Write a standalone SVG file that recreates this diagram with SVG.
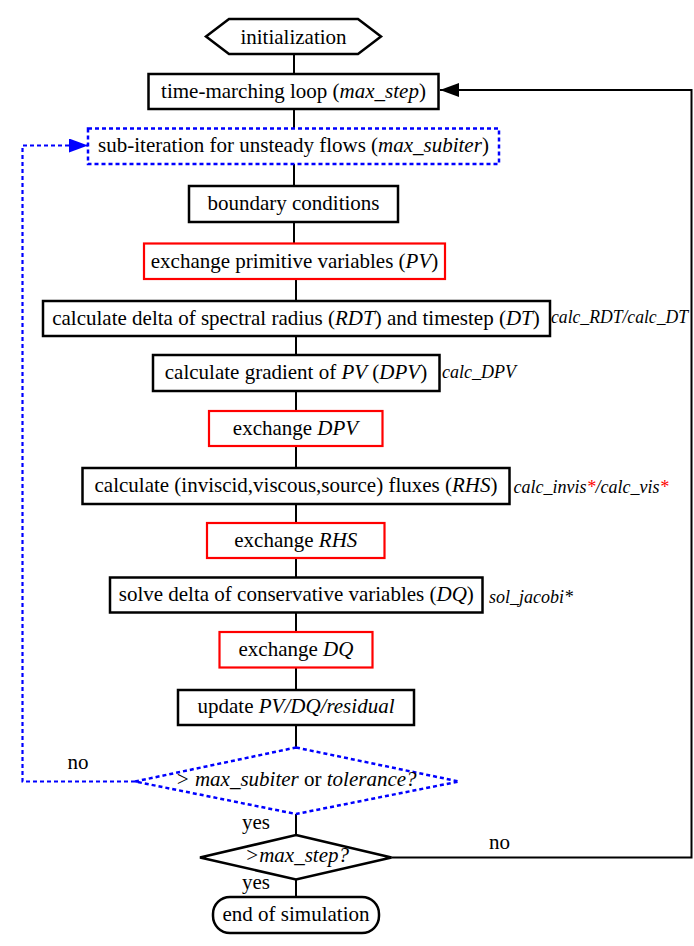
<svg xmlns="http://www.w3.org/2000/svg" width="694" height="946" viewBox="0 0 694 946" font-family="Liberation Serif, Times New Roman, serif">
<style>
text{font-size:21px;fill:#000}
.c{text-anchor:middle}
.i{font-style:italic}
.side{font-size:18px;font-style:italic}
.box{fill:#fff;stroke:#000;stroke-width:2.5}
.red{fill:#fff;stroke:#f00;stroke-width:2.2}
.blue{fill:none;stroke:#00f;stroke-width:2.5;stroke-dasharray:4 3}
.ln{fill:none;stroke:#000;stroke-width:2}
.bl{fill:none;stroke:#00f;stroke-width:2.2;stroke-dasharray:4 3}
</style>
<defs>
<marker id="ab" markerUnits="userSpaceOnUse" markerWidth="20" markerHeight="14" refX="19" refY="7" orient="auto"><path d="M0,0 L19,7 L0,14 Z" fill="#000"/></marker>
<marker id="ablue" markerUnits="userSpaceOnUse" markerWidth="20" markerHeight="14" refX="19" refY="7" orient="auto"><path d="M0,0 L19,7 L0,14 Z" fill="#00f"/></marker>
</defs>
<g id="connectors">
<path class="ln" d="M294,54V74M294,109V128.5M294,164V186M294,222V243.5"/>
<path class="ln" d="M296,279V301M296,336V355M296,391V411M296,446V468M296,504V523M296,558V577.5M296,612.5V632M296,667.5V690M296,725V747.5M296,814V835M296,879.5V897"/>
<path class="ln" d="M391.5,857.5H691.5V90H440" marker-end="url(#ab)"/>
<path class="bl" d="M135,781.5H22.5V145.5H88" marker-end="url(#ablue)"/>
<text x="67.5" y="769">no</text>
<text x="242" y="829">yes</text>
<text x="489" y="849">no</text>
<text x="242" y="889">yes</text>
</g>
<g id="init"><polygon class="box" points="206,36.5 229,19 358,19 381,36.5 358,54 229,54"/><text class="c" x="293.5" y="43.5">initialization</text></g>
<g id="timeloop"><rect class="box" x="148.5" y="74" width="290" height="35"/><text class="c" x="293.5" y="97.5">time-marching loop (<tspan class="i">max_step</tspan>)</text></g>
<g id="subiter"><rect class="blue" x="88" y="128.5" width="411" height="35.5"/><text class="c" x="293.5" y="152">sub-iteration for unsteady flows (<tspan class="i">max_subiter</tspan>)</text></g>
<g id="bc"><rect class="box" x="189" y="186" width="209" height="36"/><text class="c" x="293.5" y="210">boundary conditions</text></g>
<g id="exPV"><rect class="red" x="144" y="243.5" width="301" height="35.5"/><text class="c" x="294.5" y="267.5">exchange primitive variables (<tspan class="i">PV</tspan>)</text></g>
<g id="rdt"><rect class="box" x="43" y="301" width="507" height="35"/><text class="c" x="296" y="324.5">calculate delta of spectral radius (<tspan class="i">RDT</tspan>) and timestep (<tspan class="i">DT</tspan>)</text><text class="side" x="551" y="323" textLength="137" lengthAdjust="spacingAndGlyphs">calc_RDT/calc_DT</text></g>
<g id="grad"><rect class="box" x="153" y="355" width="286.5" height="36"/><text class="c" x="296" y="379">calculate gradient of <tspan class="i">PV</tspan> (<tspan class="i">DPV</tspan>)</text><text class="side" x="442" y="378">calc_DPV</text></g>
<g id="exDPV"><rect class="red" x="209" y="411" width="173.5" height="35"/><text class="c" x="295.5" y="434.5">exchange <tspan class="i">DPV</tspan></text></g>
<g id="flux"><rect class="box" x="82.5" y="468" width="427" height="36"/><text class="c" x="296" y="492">calculate (inviscid,viscous,source) fluxes (<tspan class="i">RHS</tspan>)</text><text class="side" x="513.5" y="493">calc_invis<tspan fill="#f00">*</tspan>/calc_vis<tspan fill="#f00">*</tspan></text></g>
<g id="exRHS"><rect class="red" x="207" y="523" width="177.5" height="35"/><text class="c" x="295.8" y="546.5">exchange <tspan class="i">RHS</tspan></text></g>
<g id="solve"><rect class="box" x="110" y="577.5" width="372.5" height="35"/><text class="c" x="296.3" y="601">solve delta of conservative variables (<tspan class="i">DQ</tspan>)</text><text class="side" x="489" y="603">sol_jacobi*</text></g>
<g id="exDQ"><rect class="red" x="219.5" y="632" width="153" height="35.5"/><text class="c" x="296" y="656">exchange <tspan class="i">DQ</tspan></text></g>
<g id="update"><rect class="box" x="178" y="690" width="236" height="35"/><text class="c" x="296" y="713">update <tspan class="i">PV/DQ/residual</tspan></text></g>
<g id="subcheck"><polygon class="blue" points="296,747.5 459,781.5 296,814 135,781.5"/><text class="c" x="296" y="786"><tspan class="i">&gt; max_subiter</tspan> or  <tspan class="i">tolerance?</tspan></text></g>
<g id="stepcheck"><polygon class="box" points="296,835 391.5,857.5 296,879.5 200,857.5"/><text class="c i" x="297" y="862">&gt;max_step?</text></g>
<g id="end"><rect class="box" x="213" y="897" width="166" height="36" rx="17"/><text class="c" x="296" y="921">end of simulation</text></g>
</svg>
